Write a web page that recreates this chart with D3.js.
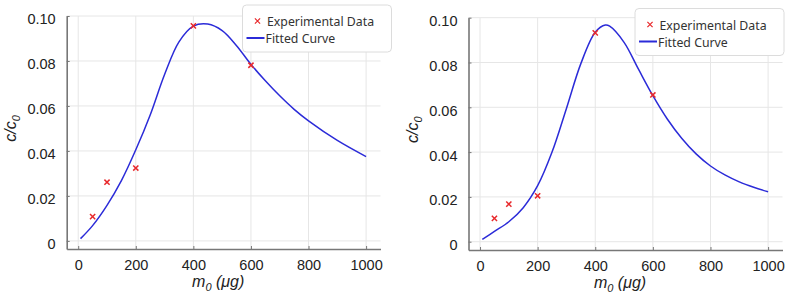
<!DOCTYPE html>
<html>
<head>
<meta charset="utf-8">
<script src="https://cdn.jsdelivr.net/npm/d3@7"></script>
<style>
  body { margin: 0; background: #fff; }
  svg { display: block; }
  .tick text, .ttl { font-family: "Liberation Sans", Arial, Helvetica, sans-serif; }
</style>
</head>
<body>
<div id="chart"></div>
<script>
// tick labels
const xTicks = [0, 200, 400, 600, 800, 1000];
const yTicks = [0, 0.02, 0.04, 0.06, 0.08, 0.10];
const yTickLabels = ["0", "0.02", "0.04", "0.06", "0.08", "0.10"];

// experimental points
const massExp = [50, 100, 200, 400, 600];
const ratioExpA = [0.0108, 0.0261, 0.0324, 0.0956, 0.0781];
const ratioExpB = [0.0104, 0.0168, 0.0205, 0.0932, 0.0655];

// fitted curves
const fitMassA = [8, 50, 100, 150, 200, 250, 300, 350, 400, 450, 500, 550, 600, 650, 700, 750, 800, 900, 1000];
const fitRatioA = [0.001, 0.0068, 0.0158, 0.0268, 0.0405, 0.056, 0.074, 0.0885, 0.0955, 0.0964, 0.0935, 0.0868, 0.0785, 0.0712, 0.0645, 0.0585, 0.0534, 0.0447, 0.0375];
const fitMassB = [8, 50, 100, 150, 200, 250, 300, 350, 400, 435, 450, 500, 550, 600, 650, 700, 750, 800, 850, 900, 950, 1000];
const fitRatioB = [0.001, 0.0046, 0.0089, 0.0152, 0.025, 0.040, 0.0595, 0.0795, 0.0935, 0.0967, 0.0962, 0.089, 0.077, 0.0652, 0.0548, 0.0462, 0.0392, 0.0338, 0.0298, 0.0267, 0.0243, 0.0223];

const width = 797, height = 298;

const svg = d3.select("#chart")
    .append("svg")
    .attr("width", width)
    .attr("height", height)
    .attr("viewBox", [0, 0, width, height]);

function drawPanel(p) {
    let x = d3.scaleLinear()
        .domain([-40, 1050])
        .range([p.left, p.right]);

    let y = d3.scaleLinear()
        .domain([p.yMin, 0.1])
        .range([p.bottom, p.top]);

    let g = svg.append("g");

    // grid
    g.append("g").selectAll("line")
        .data(xTicks)
        .join("line")
        .attr("x1", d => x(d)).attr("x2", d => x(d))
        .attr("y1", p.top).attr("y2", p.bottom)
        .attr("stroke", "#e6e6e6");

    g.append("g").selectAll("line")
        .data(yTicks)
        .join("line")
        .attr("x1", p.left).attr("x2", p.right)
        .attr("y1", d => y(d)).attr("y2", d => y(d))
        .attr("stroke", "#e6e6e6");

    // axes
    let xAxis = g.append("g")
        .attr("transform", `translate(0,${p.bottom})`)
        .call(d3.axisBottom(x).tickValues(xTicks).tickFormat(d3.format("d")).tickSize(-3).tickSizeOuter(0).tickPadding(11));

    let yAxis = g.append("g")
        .attr("transform", `translate(${p.left},0)`)
        .call(d3.axisLeft(y).tickValues(yTicks).tickFormat((d, i) => yTickLabels[i]).tickSize(-3).tickSizeOuter(0).tickPadding(11));

    for (let a of [xAxis, yAxis]) {
        a.attr("font-family", null);
        a.select(".domain").attr("stroke", "#777").attr("stroke-width", 1.6);
        a.selectAll(".tick line").attr("stroke", "#777");
        a.selectAll("text")
            .attr("fill", "#222")
            .style("font-size", "14.5px");
    }
    yAxis.selectAll("text").attr("dy", "0.55em");

    // axis titles
    let xt = g.append("text")
        .attr("class", "ttl")
        .attr("x", x(500) - 4)
        .attr("y", p.bottom + 38)
        .attr("text-anchor", "middle")
        .style("font-size", "16px")
        .style("font-style", "italic")
        .attr("fill", "#222");
    xt.append("tspan").text("m");
    xt.append("tspan").text("0").attr("dy", 4).style("font-size", "11px");
    xt.append("tspan").text(" (μg)").attr("dy", -4);

    let yt = g.append("text")
        .attr("class", "ttl")
        .attr("transform", `translate(${p.left - 51},${y(0.05)}) rotate(-90)`)
        .attr("text-anchor", "middle")
        .style("font-size", "16px")
        .style("font-style", "italic")
        .attr("fill", "#222");
    yt.append("tspan").text("c/c");
    yt.append("tspan").text("0").attr("dy", 4).style("font-size", "11px");

    // fitted curve
    let line = d3.line()
        .x(d => x(d[0]))
        .y(d => y(d[1]))
        .curve(d3.curveCatmullRom);

    g.append("path")
        .datum(p.fitMass.map((m, i) => [m, p.fitRatio[i]]))
        .attr("fill", "none")
        .attr("stroke", "#2b2bd8")
        .attr("stroke-width", 1.5)
        .attr("d", line);

    // experimental points
    let s = 2.6;
    g.append("g").selectAll("path")
        .data(massExp.map((m, i) => [m, p.exp[i]]))
        .join("path")
        .attr("d", d => `M${x(d[0]) - s},${y(d[1]) - s}L${x(d[0]) + s},${y(d[1]) + s}M${x(d[0]) - s},${y(d[1]) + s}L${x(d[0]) + s},${y(d[1]) - s}`)
        .attr("stroke", "#e8282b")
        .attr("stroke-width", 1.5);

    // legend
    let lg = g.append("g").attr("transform", `translate(${p.lx},${p.ly})`);
    lg.append("rect")
        .attr("width", 149).attr("height", 47)
        .attr("rx", 4)
        .attr("fill", "#fff")
        .attr("stroke", "#dcdcdc");
    lg.append("path")
        .attr("d", `M${15 - s},${16 - s}L${15 + s},${16 + s}M${15 - s},${16 + s}L${15 + s},${16 - s}`)
        .attr("stroke", "#e8282b")
        .attr("stroke-width", 1.2);
    lg.append("line")
        .attr("x1", 4).attr("x2", 22)
        .attr("y1", 33).attr("y2", 33)
        .attr("stroke", "#2b2bd8")
        .attr("stroke-width", 2);
    lg.selectAll("text.lab")
        .data(["Experimental Data", "Fitted Curve"])
        .join("text")
        .attr("class", "lab")
        .attr("x", (d, i) => i ? 23 : 24.5)
        .attr("y", (d, i) => i ? 38 : 21)
        .text(d => d)
        .attr("fill", "#333")
        .style("font-family", "'Noto Sans', sans-serif")
        .style("font-size", "12.3px");
}

drawPanel({ left: 66.7, right: 380.5, top: 16, bottom: 249, yMin: -0.0036,
            fitMass: fitMassA, fitRatio: fitRatioA, exp: ratioExpA, lx: 242.5, ly: 5 });
drawPanel({ left: 468.5, right: 782.5, top: 17.7, bottom: 250, yMin: -0.0037,
            fitMass: fitMassB, fitRatio: fitRatioB, exp: ratioExpB, lx: 635, ly: 8.5 });
</script>
</body>
</html>
